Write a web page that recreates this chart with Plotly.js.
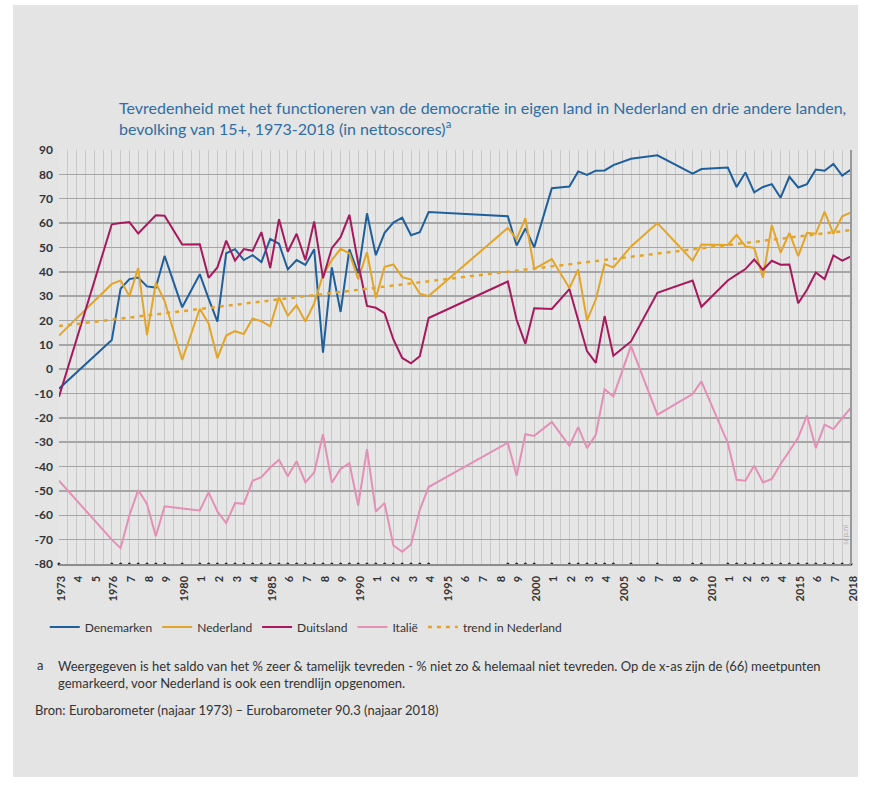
<!DOCTYPE html>
<html>
<head>
<meta charset="utf-8">
<script src="https://cdn.plot.ly/plotly-3.0.1.min.js"></script>
<style>
  html, body { margin: 0; padding: 0; background: #ffffff; }
  #panel { position: absolute; left: 13px; top: 5px; width: 845px; height: 772px; background: #e4e4e4; }
  #chart { position: absolute; left: 0; top: 0; width: 869px; height: 788px; }
</style>
</head>
<body>
<div id="panel"></div>
<div id="chart"></div>
<script>
// Measurement points (Eurobarometer waves), in years
const years = [1973, 1976, 1976.5, 1977, 1977.5, 1978, 1978.5, 1979, 1980,
  1981, 1981.5, 1982, 1982.5, 1983, 1983.5, 1984, 1984.5, 1985, 1985.5, 1986, 1986.5,
  1987, 1987.5, 1988, 1988.5, 1989, 1989.5, 1990, 1990.5, 1991, 1991.5, 1992, 1992.5,
  1993, 1993.5, 1994, 1998.5, 1999, 1999.5, 2000, 2001, 2002, 2002.5, 2003, 2003.5,
  2004, 2004.5, 2005.5, 2007, 2009, 2009.5, 2011, 2011.5, 2012, 2012.5, 2013, 2013.5,
  2014, 2014.5, 2015, 2015.5, 2016, 2016.5, 2017, 2017.5, 2018];

const denemarken = [-8, 12, 33, 37, 37.6, 34, 33.5, 46.5, 25.4,
  39, 29, 19.5, 47.6, 49.3, 44.8, 46.8, 44, 53.5, 51.5, 41, 44.8,
  42.8, 49.2, 6.8, 41.8, 23.5, 49.2, 39.4, 64, 46.8, 56, 60.2, 62.2,
  55, 56.2, 64.5, 62.8, 50.8, 57.8, 50, 74.3, 75, 81.2, 79.8, 81.5,
  81.6, 83.8, 86.4, 87.8, 80.3, 82.2, 82.8, 74.8, 80.8, 72.6, 74.8, 76,
  70.4, 79, 74.6, 76, 82, 81.5, 84.3, 79.5, 82];

const nederland = [13.8, 35, 36.4, 30, 41.5, 14, 35.5, 28, 3.8,
  24.8, 18.8, 4.5, 13.8, 15.6, 14.4, 20.8, 19.7, 17.6, 29.6, 22, 26.2,
  19.6, 27, 38.7, 44.8, 49.4, 47.6, 37, 48, 29.2, 42, 43, 37.8,
  36.8, 31, 30, 58, 53.4, 62, 41.2, 45.2, 33.3, 41, 20, 28.6,
  43.2, 41.8, 50.4, 60, 44.6, 51.2, 51, 55.2, 50.4, 49.8, 37.6, 59.2,
  47.8, 56, 46.4, 56, 55.6, 64.7, 55.6, 62.8, 64.4];

const duitsland = [-11.3, 59.5, 60, 60.4, 55.7, 59.5, 63.2, 63, 51.2,
  51.3, 37.5, 41.8, 52.8, 44.6, 49.3, 48.6, 56.3, 41.5, 61.6, 48.2, 55.6,
  44.8, 60.7, 37.4, 49.7, 54.2, 63.4, 43.5, 26, 25.2, 23, 12.2, 4.6,
  2.4, 5.3, 21, 36, 20.3, 10.4, 25, 24.7, 32.9, 20.2, 7.4, 2.6,
  21.8, 5.5, 11.4, 31.4, 36.4, 25.6, 36.4, 38.8, 41.1, 45, 40.8, 44.5,
  42.9, 43, 27.1, 32.6, 39.7, 37, 46.7, 44.6, 46.3];

const italie = [-45.8, -70, -73.5, -60, -49.6, -55.4, -68.6, -56.3, -57.2,
  -58, -50.6, -58.4, -63.2, -55, -55.3, -45.8, -44.3, -40.4, -37.2, -44, -37.8,
  -46.5, -42.4, -26.7, -46.6, -41, -38.6, -56, -32.8, -58.4, -55, -72.4, -75,
  -72, -57.7, -48.4, -30.2, -43.8, -26.7, -27.4, -21.7, -31.5, -23.8, -32.4, -27,
  -8.2, -11.2, 9.6, -18.7, -10.2, -5, -30.3, -45.4, -45.8, -39.6, -46.5, -45.1,
  -38.9, -33.6, -28.1, -19, -32.4, -22.8, -24.6, -20.1, -15.8];

// Linear trend for Nederland (end points)
const trendYears = [1973, 2018];
const trendNederland = [17.7, 57.1];

// Tick labels
const xTickVals = [];
for (let y = 1973; y <= 2018; y++) xTickVals.push(y);
const xTickText = ["1973","4","5","1976","7","8","9","1980","1","2","3","4","1985","6","7","8","9",
  "1990","1","2","3","4","1995","6","7","8","9","2000","1","2","3","4","2005","6","7","8","9",
  "2010","1","2","3","4","2015","6","7","2018"];
const yTickVals = [-80,-70,-60,-50,-40,-30,-20,-10,0,10,20,30,40,50,60,70,80,90];
const yTickText = ["-80","-70","-60","-50","-40","-30","-20","-10","0","10","20","30","40","50","60","70","80","90"];

const FONT = "Lato, 'Open Sans', sans-serif";
const yMin = -80, yMax = 90;

const traces = [
  {x: years, y: denemarken, name: "Denemarken", mode: "lines",
   line: {color: "#1f5f9c", width: 2}},
  {x: years, y: nederland, name: "Nederland", mode: "lines",
   line: {color: "#e3a527", width: 2}},
  {x: years, y: duitsland, name: "Duitsland", mode: "lines",
   line: {color: "#a6195c", width: 2}},
  {x: years, y: italie, name: "Italië", mode: "lines",
   line: {color: "#e390b4", width: 2}},
  {x: trendYears, y: trendNederland, name: "trend in Nederland", mode: "lines",
   line: {color: "#e3a527", width: 2.5, dash: "4px,5px"}},
  {x: years, y: years.map(() => yMin), mode: "markers", showlegend: false, hoverinfo: "skip",
   marker: {color: "#222", size: 3}, cliponaxis: false}
];

const layout = {
  width: 869, height: 788,
  paper_bgcolor: "rgba(0,0,0,0)",
  plot_bgcolor: "#e6e6e6",
  margin: {l: 59, r: 18, t: 150, b: 224},
  font: {family: FONT, color: "#333"},
  title: {
    text: "Tevredenheid met het functioneren van de democratie in eigen land in Nederland en drie andere landen,<br>bevolking van 15+, 1973-2018 (in nettoscores)<sup>a</sup>",
    font: {family: FONT, size: 16, color: "#2f6da3"},
    xref: "container", x: 119/869, xanchor: "left",
    yref: "container", y: 1 - 114/788, yanchor: "top"
  },
  xaxis: {
    range: [1973, 2018],
    tickmode: "array", tickvals: xTickVals, ticktext: xTickText,
    tickangle: -90,
    tickfont: {family: FONT, size: 11, color: "#333", weight: "bold"},
    ticks: "", ticklabelstandoff: 6, ticklabelshift: 2,
    showgrid: true, gridcolor: "#c9c9c9", gridwidth: 1,
    minor: {tickmode: "linear", tick0: 1973, dtick: 0.5, showgrid: true, gridcolor: "#c9c9c9", gridwidth: 1},
    zeroline: false,
    showline: true, linecolor: "#8c8c8c", linewidth: 1.5
  },
  yaxis: {
    range: [yMin, yMax],
    tickmode: "array", tickvals: yTickVals, ticktext: yTickText,
    tickfont: {family: FONT, size: 12, color: "#333", weight: "bold"},
    ticks: "", ticklabelstandoff: 5,
    showgrid: true, gridcolor: "#a6a6a6", gridwidth: 1.5,
    zeroline: false, showline: false
  },
  shapes: [
    {type: "line", xref: "paper", yref: "paper", x0: 1, x1: 1, y0: 0, y1: 1,
     line: {color: "#9a9a9a", width: 2}}
  ],
  legend: {
    orientation: "h", x: -0.018, xanchor: "left", y: -0.152, yanchor: "middle",
    bgcolor: "rgba(0,0,0,0)",
    font: {family: FONT, size: 12, color: "#333"},
    traceorder: "normal"
  },
  annotations: [
    {xref: "paper", yref: "paper", x: (35-59)/792, y: -(665-564)/414, xanchor: "left", yanchor: "middle",
     text: "a", showarrow: false, font: {family: FONT, size: 13, color: "#333"}},
    {xref: "paper", yref: "paper", x: (56-59)/792, y: -(674-564)/414, xanchor: "left", yanchor: "middle",
     align: "left",
     text: "Weergegeven is het saldo van het % zeer &amp; tamelijk tevreden - % niet zo &amp; helemaal niet tevreden. Op de x-as zijn de (66) meetpunten<br>gemarkeerd, voor Nederland is ook een trendlijn opgenomen.",
     showarrow: false, font: {family: FONT, size: 13, color: "#333"}},
    {xref: "paper", yref: "paper", x: (33-59)/792, y: -(710-564)/414, xanchor: "left", yanchor: "middle",
     text: "Bron: Eurobarometer (najaar 1973) – Eurobarometer 90.3 (najaar 2018)",
     showarrow: false, font: {family: FONT, size: 13, color: "#333"}},
    {xref: "paper", yref: "y", x: (845-59)/792, y: -68, xanchor: "center", yanchor: "middle",
     text: "scp.nl", textangle: -90, showarrow: false,
     font: {family: FONT, size: 8, color: "#b3b3b3"}}
  ]
};

Plotly.newPlot("chart", traces, layout, {displayModeBar: false, staticPlot: true});
</script>
</body>
</html>
